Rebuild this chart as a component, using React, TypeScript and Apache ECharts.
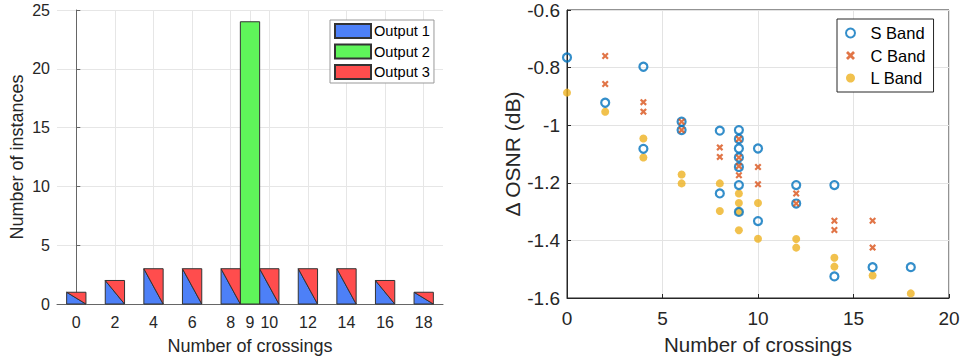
import React, { useEffect, useRef } from "react";
import * as echarts from "echarts";

const crossings = [0, 2, 4, 6, 8, 9, 10, 12, 14, 16, 18];
const output1 = [1, 2, 3, 3, 3, 0, 3, 3, 3, 2, 1];
const output2 = [0, 0, 0, 0, 0, 24, 0, 0, 0, 0, 0];
const output3 = [1, 2, 3, 3, 3, 0, 3, 3, 3, 2, 1];
const xTicksLeft = [0, 2, 4, 6, 8, 9, 10, 12, 14, 16, 18];

const sBand: [number, number][] = [
  [0, -0.765], [2, -0.922], [4, -0.797], [4, -1.082], [6, -0.988], [6, -1.017],
  [8, -1.019], [8, -1.237], [9, -1.017], [9, -1.048], [9, -1.081], [9, -1.112],
  [9, -1.145], [9, -1.208], [9, -1.301], [10, -1.081], [10, -1.333], [12, -1.208],
  [12, -1.272], [14, -1.208], [14, -1.525], [16, -1.493], [18, -1.493],
];
const cBand: [number, number][] = [
  [2, -0.76], [2, -0.857], [4, -0.92], [4, -0.953], [6, -0.988], [6, -1.017],
  [8, -1.077], [8, -1.11], [9, -1.048], [9, -1.112], [9, -1.142], [9, -1.174],
  [10, -1.145], [10, -1.205], [12, -1.237], [12, -1.272], [14, -1.332], [14, -1.364],
  [16, -1.332], [16, -1.425],
];
const lBand: [number, number][] = [
  [0, -0.887], [2, -0.953], [4, -1.046], [4, -1.112], [6, -1.171], [6, -1.202],
  [8, -1.202], [8, -1.298], [9, -1.237], [9, -1.27], [9, -1.301], [9, -1.365],
  [10, -1.27], [10, -1.394], [12, -1.395], [12, -1.425], [14, -1.46], [14, -1.491],
  [16, -1.522], [18, -1.584],
];

const FONT = "Liberation Sans, Arial, Helvetica, sans-serif";
const TXT = "#262626";
const BLUE = "#4d80f7";
const GREEN = "#5ff55a";
const RED = "#ff4d4d";
const EDGE = "#333333";
const X_PATH =
  "path://M0,2.2L2.2,0L5,2.8L7.8,0L10,2.2L7.2,5L10,7.8L7.8,10L5,7.2L2.2,10L0,7.8L2.8,5Z";

export default function App() {
  const ref = useRef<HTMLDivElement>(null);
  useEffect(() => {
    if (!ref.current) return;
    const chart = echarts.init(ref.current, null, { renderer: "svg" });

    const mk = (vals: number[]) => crossings.map((c, i) => [c, vals[i]]);
    const tri = (kind: "lower" | "upper" | "rect", fill: string) => (params: any, api: any) => {
      const x = api.value(0);
      const v = api.value(1);
      if (!v) return null;
      const lt = api.coord([x - 0.5, v]);
      const rb = api.coord([x + 0.5, 0]);
      let pts: number[][];
      if (kind === "lower") pts = [[lt[0], lt[1]], [lt[0], rb[1]], [rb[0], rb[1]]];
      else if (kind === "upper") pts = [[lt[0], lt[1]], [rb[0], lt[1]], [rb[0], rb[1]]];
      else pts = [[lt[0], lt[1]], [rb[0], lt[1]], [rb[0], rb[1]], [lt[0], rb[1]]];
      return {
        type: "polygon",
        shape: { points: pts },
        style: { fill, stroke: EDGE, lineWidth: 1 },
      };
    };

    const option: any = {
      animation: false,
      textStyle: { fontFamily: FONT },
      grid: [
        { left: 57, top: 10, width: 386, height: 295, containLabel: false },
        {
          left: 567, top: 10, width: 382, height: 288, containLabel: false,
          show: true, borderColor: TXT, borderWidth: 1,
        },
      ],
      legend: [
        {
          orient: "vertical",
          left: 330,
          top: 20,
          padding: [3, 4, 3, 4],
          itemGap: 4.5,
          itemWidth: 36,
          itemHeight: 14,
          backgroundColor: "#fff",
          borderColor: "#999",
          borderWidth: 1,
          textStyle: { fontFamily: FONT, fontSize: 14.6, color: "#000", lineHeight: 15, padding: [0, 0, 0, -2] },
          data: [
            { name: "Output 1", icon: "rect" },
            { name: "Output 2", icon: "rect" },
            { name: "Output 3", icon: "rect" },
          ],
        },
        {
          orient: "vertical",
          left: 837,
          top: 19,
          padding: [5, 8, 5, 8],
          itemGap: 4.5,
          itemWidth: 30,
          itemHeight: 9,
          backgroundColor: "#fff",
          borderColor: TXT,
          borderWidth: 1,
          textStyle: { fontFamily: FONT, fontSize: 16.5, color: "#000", lineHeight: 18 },
          data: ["S Band", "C Band", "L Band"],
        },
      ],
      xAxis: [
        {
          type: "value",
          gridIndex: 0,
          min: -1,
          max: 19,
          interval: 1,
          name: "Number of crossings",
          nameLocation: "middle",
          nameGap: 33,
          nameTextStyle: { fontFamily: FONT, fontSize: 18, color: TXT },
          axisLine: { show: true, onZero: false, lineStyle: { color: "#666", width: 1 } },
          axisTick: { show: true, inside: true, length: 4, customValues: xTicksLeft, lineStyle: { color: "#666" } },
          axisLabel: { customValues: xTicksLeft, margin: 10, fontFamily: FONT, fontSize: 16, color: TXT },
          splitLine: { show: true, lineStyle: { color: "#e6e6e6", width: 1 } },
        },
        {
          type: "value",
          gridIndex: 1,
          min: 0,
          max: 20,
          interval: 5,
          name: "Number of crossings",
          nameLocation: "middle",
          nameGap: 36,
          nameTextStyle: { fontFamily: FONT, fontSize: 20.5, color: TXT },
          axisLine: { show: true, onZero: false, lineStyle: { color: TXT, width: 1 } },
          axisTick: { show: true, inside: true, length: 4, lineStyle: { color: TXT } },
          axisLabel: { margin: 11, fontFamily: FONT, fontSize: 19, color: TXT },
          splitLine: { show: true, lineStyle: { color: "#e3e3e3", width: 1 } },
        },
      ],
      yAxis: [
        {
          type: "value",
          gridIndex: 0,
          min: 0,
          max: 25,
          interval: 5,
          name: "Number of instances",
          nameLocation: "middle",
          nameGap: 31,
          nameTextStyle: { fontFamily: FONT, fontSize: 18, color: TXT },
          axisLine: { show: true, lineStyle: { color: "#666", width: 1 } },
          axisTick: { show: true, inside: true, length: 4, lineStyle: { color: "#666" } },
          axisLabel: { margin: 7, fontFamily: FONT, fontSize: 16, color: TXT },
          splitLine: { show: true, lineStyle: { color: "#e6e6e6", width: 1 } },
        },
        {
          type: "value",
          gridIndex: 1,
          min: -1.6,
          max: -0.6,
          interval: 0.2,
          name: "\u0394 OSNR (dB)",
          nameLocation: "middle",
          nameGap: 43,
          nameTextStyle: { fontFamily: FONT, fontSize: 21, color: TXT },
          axisLine: { show: true, onZero: false, lineStyle: { color: TXT, width: 1 } },
          axisTick: { show: true, inside: true, length: 4, lineStyle: { color: TXT } },
          axisLabel: { margin: 7, fontFamily: FONT, fontSize: 19, color: TXT },
          splitLine: { show: true, lineStyle: { color: "#e3e3e3", width: 1 } },
        },
      ],
      series: [
        {
          name: "Output 1",
          type: "custom",
          xAxisIndex: 0,
          yAxisIndex: 0,
          encode: { x: 0, y: 1 },
          itemStyle: { color: BLUE, borderColor: EDGE, borderWidth: 1 },
          renderItem: tri("lower", BLUE),
          data: mk(output1),
        },
        {
          name: "Output 2",
          type: "custom",
          xAxisIndex: 0,
          yAxisIndex: 0,
          encode: { x: 0, y: 1 },
          itemStyle: { color: GREEN, borderColor: EDGE, borderWidth: 1 },
          renderItem: tri("rect", GREEN),
          data: mk(output2),
        },
        {
          name: "Output 3",
          type: "custom",
          xAxisIndex: 0,
          yAxisIndex: 0,
          encode: { x: 0, y: 1 },
          itemStyle: { color: RED, borderColor: EDGE, borderWidth: 1 },
          renderItem: tri("upper", RED),
          data: mk(output3),
        },
        {
          name: "S Band",
          type: "scatter",
          xAxisIndex: 1,
          yAxisIndex: 1,
          symbol: "circle",
          symbolSize: 8,
          itemStyle: { color: "rgba(255,255,255,0)", borderColor: "#0072BD", borderWidth: 2.2 },
          data: sBand,
          z: 3,
        },
        {
          name: "C Band",
          type: "scatter",
          xAxisIndex: 1,
          yAxisIndex: 1,
          symbol: X_PATH,
          symbolSize: 7,
          itemStyle: { color: "#D95319" },
          data: cBand,
          z: 4,
        },
        {
          name: "L Band",
          type: "scatter",
          xAxisIndex: 1,
          yAxisIndex: 1,
          symbol: "circle",
          symbolSize: 8,
          itemStyle: { color: "#EDB120" },
          data: lBand,
          z: 2,
        },
      ],
    };
    chart.setOption(option);
    return () => chart.dispose();
  }, []);
  return <div ref={ref} style={{ width: 963, height: 360, position: "absolute", left: 0, top: 0 }} />;
}
